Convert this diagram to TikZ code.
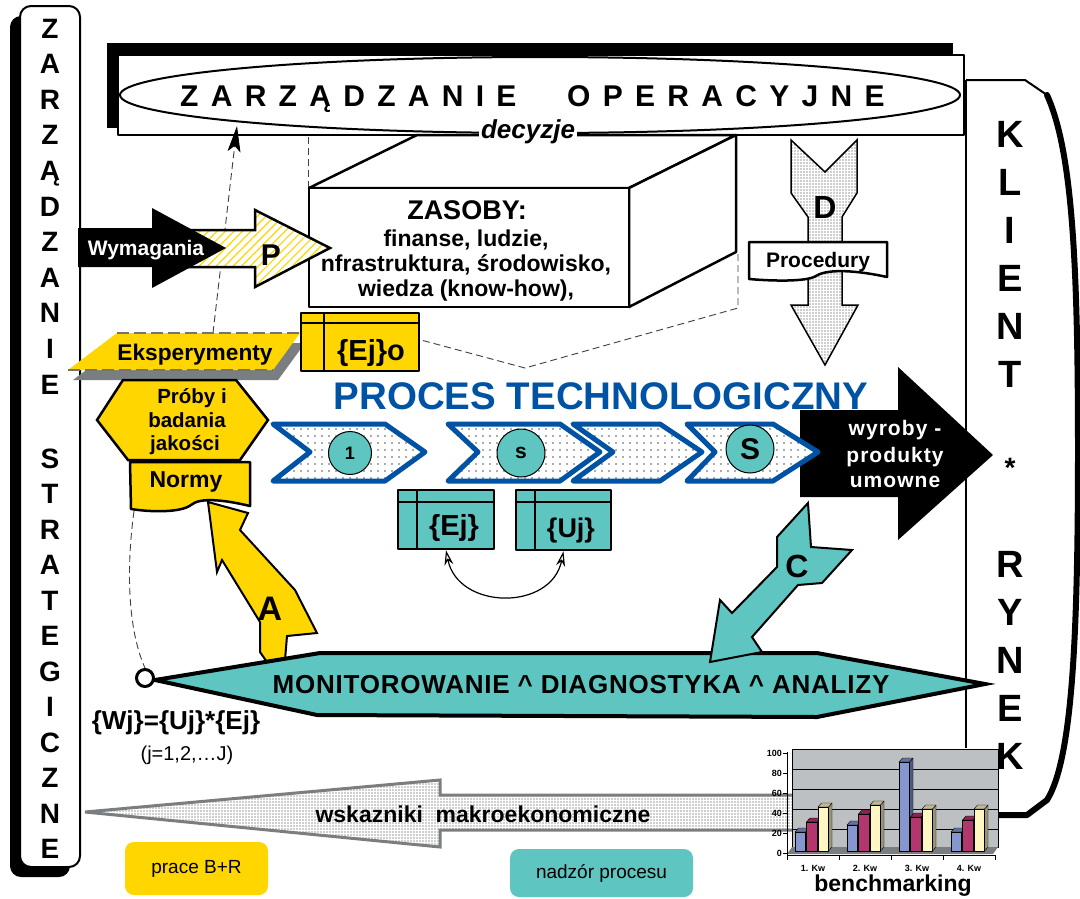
\documentclass[tikz,border=0pt]{standalone}
\usepackage{fontspec}
\setmainfont{Liberation Sans}
\usetikzlibrary{patterns.meta,arrows.meta,calc}
\definecolor{tealc}{RGB}{94,197,192}
\definecolor{yelc}{RGB}{255,214,0}
\definecolor{blueP}{RGB}{0,82,164}
\definecolor{grayw}{RGB}{188,192,194}
\definecolor{barb}{RGB}{134,150,206}
\definecolor{barr}{RGB}{180,54,110}
\definecolor{barc}{RGB}{255,246,196}
\definecolor{shadg}{RGB}{122,126,128}
\newcommand{\fsz}[1]{\fontsize{#1}{#1}\selectfont}
\newcommand{\chartbar}[3]{%
  \filldraw[fill=#3!60!black,draw=black,line width=0.4pt] (#1+10.5,{852-#2}) -- (#1+14,{848-#2}) -- (#1+14,847) -- (#1+10.5,851) -- cycle;
  \filldraw[fill=#3!75!black,draw=black,line width=0.4pt] (#1,{852-#2}) -- (#1+3.5,{848-#2}) -- (#1+14,{848-#2}) -- (#1+10.5,{852-#2}) -- cycle;
  \draw[line width=0.5pt,fill=#3] (#1,851) rectangle (#1+10.5,{852-#2});
}
\begin{document}
\begin{tikzpicture}[x=1pt,y=-1pt,line join=round,
  txt/.style={inner sep=0pt,anchor=base},
  vlet/.style={inner sep=0pt,anchor=base,font=\bfseries\fsz{28}},
  klet/.style={inner sep=0pt,anchor=base,font=\bfseries\fsz{38}},
  outl/.style={draw=black,line width=2.5pt},
  dotsfill/.style={preaction={fill=white},preaction={pattern={Dots[distance=3pt,radius=0.55pt]},pattern color=black!80}},
  chevfill/.style={preaction={fill=white},preaction={pattern={Dots[distance=7pt,radius=0.8pt]},pattern color=black!65}},
  hatchfill/.style={preaction={fill=white},preaction={pattern={Lines[angle=45,distance=6pt,line width=1.2pt]},pattern color=yelc}},
  chevron/.style={draw=blueP,line width=5pt,line join=round,chevfill},
  tealbox/.style={fill=tealc,draw=black,line width=2.5pt,inner sep=0pt},
  yelbox/.style={fill=yelc,draw=black,line width=2.5pt,inner sep=0pt},
  dsh/.style={draw=black!75,line width=0.9pt,dash pattern=on 7pt off 4pt},
  stepcircle/.style={circle,fill=tealc,draw=black,line width=1pt,inner sep=0pt},
  legendbox/.style={rounded corners=9pt,inner sep=0pt},
  ttl/.style={inner sep=0pt,anchor=base west,font=\bfseries\fsz{30}\addfontfeature{LetterSpace=41}},
]
\useasboundingbox (0,0) rectangle (1080,898);
\fill[white] (0,0) rectangle (1080,898);

% ---- left vertical box
\fill[black,rounded corners=11pt] (10,16) rectangle (70,877);
\draw[fill=white,line width=2pt,rounded corners=11pt] (20,6) rectangle (80,867);
\foreach \ch [count=\i from 0] in {Z,A,R,Z,Ą,D,Z,A,N,I,E}
  \node[vlet] (zs\i) at (50,{38+35.6*\i}) {\ch};
\foreach \ch [count=\i from 0] in {S,T,R,A,T,E,G,I,C,Z,N,E}
  \node[vlet] (zt\i) at (50,{468+35.5*\i}) {\ch};

% ---- top box
\fill[black] (107,43) rectangle (953,128);
\draw[fill=white,line width=2pt] (118,55) rectangle (964,135);
\draw[fill=white,line width=2pt] (540,95) ellipse [x radius=420pt,y radius=38pt];
\node[ttl] (title1) at (180,106) {ZARZĄDZANIE};
\node[ttl] (title2) at (567,106) {OPERACYJNE};

% ---- right side
\draw[line width=2.5pt] (966,80) -- (966,748);
\draw[line width=2pt] (966,80) -- (1025,80) -- (1047,95);
\draw[line width=6pt,line cap=round] (1047,95) .. controls (1072,150) and (1078,260) .. (1078,450) .. controls (1078,640) and (1072,760) .. (1047,800) -- (1027,815) -- (998,815);

% ---- cube
\draw[outl,fill=white] (309,188) -- (417,135) -- (736,135) -- (629,188) -- cycle;
\draw[outl,fill=white] (629,188) -- (736,135) -- (736,252) -- (629,307) -- cycle;
\draw[outl,fill=white] (309,188) rectangle (629,307);
\node[txt,font=\bfseries\fsz{27}] (zas0) at (467,219) {ZASOBY:};
\node[txt,font=\bfseries\fsz{23}] (zas1) at (466,246) {finanse, ludzie,};
\node[txt,font=\bfseries\fsz{23}] (zas2) at (466,271) {nfrastruktura, środowisko,};
\node[txt,font=\bfseries\fsz{23}] (zas3) at (466,296) {wiedza (know-how),};
\node[font=\bfseries\itshape\fsz{26},fill=white,inner sep=2pt] (dec) at (528,132) {decyzje};

% ---- dashed helper lines
\coordinate (cubeA) at (308,137);
\coordinate (cubeB) at (308,187);
\draw[dsh] (cubeA) -- (cubeB);
\coordinate (hid1) at (738,254);
\coordinate (hid2) at (738,308);
\coordinate (hid3) at (525,368);
\coordinate (hid4) at (421,340);
\draw[dsh] (hid1) -- (hid2) -- (hid3) -- (hid4);
\coordinate (ekstop) at (213,333);
\coordinate (ellbot) at (237,126);
\draw[dsh,-{Stealth[length=26pt,width=13pt,inset=6pt,black]}] (ekstop) -- (ellbot);

% ---- P arrow and Wymagania
\draw[outl,hatchfill,line join=miter] (175,230) -- (255,230) -- (255,210) -- (330,248) -- (255,287) -- (255,267) -- (175,267) -- cycle;
\fill[black] (78,228) -- (152,228) -- (152,208) -- (226,248) -- (152,288) -- (152,267) -- (78,267) -- cycle;
\node[txt,font=\bfseries\fsz{21},text=white] (wym) at (146,255) {Wymagania};
\node[txt,font=\bfseries\fsz{30}] (pl) at (271,265) {P};

% ---- D arrow and Procedury
\draw[line width=1.5pt,dotsfill,line join=miter] (791,140) -- (825,172) -- (857,140) -- (857,193) -- (842,217) -- (842,305) -- (858,305) -- (825,365) -- (791,305) -- (808,305) -- (808,217) -- (791,193) -- cycle;
\node[txt,font=\bfseries\fsz{32}] (dl) at (825,218) {D};
\draw[outl,fill=white] (749,242) -- (887,242) -- (887,277) .. controls (860,271) and (828,268) .. (816,276) .. controls (806,282) and (772,281) .. (749,279) -- cycle;
\node[txt,font=\bfseries\fsz{21}] (proc) at (818,267) {Procedury};

% ---- Eksperymenty and {Ej}o
\fill[shadg] (73,380) -- (122,343) -- (305,343) -- (278,380) -- cycle;
\fill[yelc] (68,370) -- (117,333) -- (300,333) -- (273,370) -- cycle;
\draw[draw=black!55,line width=1.2pt,dash pattern=on 12pt off 5pt] (117,333) -- (300,333) (68,370) -- (273,370);
\node[txt,font=\bfseries\fsz{22.7}] (eks) at (195,360) {Eksperymenty};
\node[yelbox,minimum width=118pt,minimum height=58pt] (ejo) at (360,342) {};
\draw[line width=2pt] (301,323) -- (419,323) (324,313) -- (324,371);
\node[txt,font=\bfseries\fsz{29}] (ejot) at (371,360) {\{Ej\}o};

% ---- hexagon and Normy
\draw[outl,fill=yelc,line join=miter] (97,420) -- (123,380) -- (236,380) -- (268,420) -- (240,460) -- (128,460) -- cycle;
\node[txt,font=\bfseries\fsz{20.5}] (pr1) at (192,403) {Próby i};
\node[txt,font=\bfseries\fsz{20.5}] (pr2) at (187,427) {badania};
\node[txt,font=\bfseries\fsz{20.5}] (pr3) at (185,450) {jakości};
\draw[outl,fill=yelc] (130,462) -- (250,462) -- (250,506) .. controls (225,500) and (200,497) .. (191,505) .. controls (180,513) and (150,512) .. (131,509) -- cycle;
\node[txt,font=\bfseries\fsz{23}] (normy) at (186,487) {Normy};

% ---- process
\node[txt,font=\bfseries\fsz{38.5},text=blueP] (proces) at (601,409) {PROCES TECHNOLOGICZNY};
\fill[black] (800,410) -- (898,410) -- (898,367) -- (993,455) -- (898,540) -- (898,497) -- (800,497) -- cycle;
\node[txt,text=white,font=\bfseries\fsz{21}\addfontfeature{LetterSpace=5}] (wyr1) at (895,435) {wyroby -};
\node[txt,text=white,font=\bfseries\fsz{21}\addfontfeature{LetterSpace=5}] (wyr2) at (895,462) {produkty};
\node[txt,text=white,font=\bfseries\fsz{21}\addfontfeature{LetterSpace=5}] (wyr3) at (895,487) {umowne};
\draw[chevron] (273,424) -- (385,424) -- (425,452) -- (385,481) -- (273,481) -- (310,452) -- cycle;
\draw[chevron] (448,424) -- (560,424) -- (600,452) -- (560,481) -- (448,481) -- (478,452) -- cycle;
\draw[chevron] (573,424) -- (660,424) -- (702,452) -- (660,481) -- (573,481) -- (613,452) -- cycle;
\draw[chevron] (687,424) -- (773,424) -- (818,452) -- (773,481) -- (687,481) -- (715,452) -- cycle;
\node[stepcircle,minimum size=43pt,font=\bfseries\fsz{18}] (s1) at (350,453) {1};
\node[stepcircle,minimum size=48pt,font=\bfseries\fsz{21}] (s2) at (521,453) {s};
\node[stepcircle,minimum size=48pt,font=\bfseries\fsz{30}] (s3) at (750,449) {S};

% ---- Ej / Uj
\node[tealbox,minimum width=96pt,minimum height=59pt] (ej) at (446,519.5) {};
\draw[line width=2pt] (398,502) -- (494,502) (417,490) -- (417,549);
\node[txt,font=\bfseries\fsz{29}] (ejt) at (454,535) {\{Ej\}};
\node[tealbox,minimum width=95pt,minimum height=60pt] (uj) at (563.5,520) {};
\draw[line width=2pt] (516,502) -- (611,502) (535,490) -- (535,550);
\node[txt,font=\bfseries\fsz{27}] (ujt) at (571,537) {\{Uj\}};
\draw[line width=1.2pt,{Stealth[open,length=15pt,width=9pt]}-{Stealth[open,length=15pt,width=9pt]}] (ej.south) .. controls +(12,60) and +(-12,60) .. (uj.south);

% ---- A arrow, band, C arrow
\draw[line width=2pt,fill=yelc,line join=miter] (208,502) -- (248,513) -- (240,530) -- (295,590) -- (317,633) -- (287,636) -- (285,660) -- (267,662) -- (260,652) -- (260,622) -- (222,560) -- (217,572) -- cycle;
\node[txt,font=\bfseries\fsz{34}] (al) at (270,620) {A};
\draw[line width=4pt,fill=tealc,line join=miter] (155,680) -- (320,653) -- (817,653) -- (985,684) -- (817,717) -- (317,715) -- cycle;
\node[txt,font=\bfseries\fsz{26}\addfontfeature{LetterSpace=3}] (mon) at (581,693) {MONITOROWANIE \textasciicircum{} DIAGNOSTYKA \textasciicircum{} ANALIZY};
\draw[line width=2pt,fill=tealc,line join=miter] (808,503) -- (811,547) -- (852,550) -- (822,583) -- (798,585) -- (752,637) -- (762,652) -- (710,662) -- (720,600) -- (732,613) -- (777,567) -- (777,537) -- cycle;
\node[txt,font=\bfseries\fsz{32}] (cl) at (797,577) {C};
\node[circle,draw=black,fill=white,line width=3pt,minimum size=17pt,inner sep=0pt] (mc) at (145,678) {};
\coordinate (normybl) at (134,511);
\draw[dsh] (normybl) .. controls (126,570) and (128,630) .. (mc.north);
\node[txt,font=\bfseries\fsz{26}] (wj) at (176,729) {\{Wj\}=\{Uj\}*\{Ej\}};
\node[txt,font=\fsz{20}] (jr) at (187,760) {(j=1,2,…J)};

% ---- wskazniki arrow
\draw[draw=shadg,line width=3pt,dotsfill,line join=miter] (85,812) -- (440,780) -- (440,795) -- (800,795) -- (800,830) -- (440,830) -- (440,847) -- cycle;
\node[txt,font=\bfseries\fsz{23}] (wsk) at (483,822) {wskazniki\ \ makroekonomiczne};

% ---- chart
\fill[grayw] (792,749) rectangle (998,847);
\draw[line width=0.6pt] (792,749) rectangle (998,847);
\foreach \vv in {20,40,60,80} \draw[line width=0.8pt] (792,{849-\vv}) -- (998,{849-\vv});
\fill[shadg] (787,854) -- (792,847) -- (998,847) -- (993,854) -- cycle;
\foreach \qq/\va/\vb/\vc in {0/20/30/45,1/27/38/47,2/90/35/43,3/20/32/43} {
  \chartbar{795+52*\qq}{\va}{barb}
  \chartbar{806.5+52*\qq}{\vb}{barr}
  \chartbar{818+52*\qq}{\vc}{barc}
}
\draw[line width=0.8pt] (787,752) -- (787,855) -- (995,855);
\foreach \vv in {0,20,40,60,80,100} {
  \draw[line width=0.8pt] (783,{853-\vv}) -- (787,{853-\vv});
  \node[font=\bfseries\fsz{9},anchor=east,inner sep=1pt] (yl\vv) at (783,{853-\vv}) {\vv};
}
\foreach \xx in {787,839,891,943,995} \draw[line width=0.8pt] (\xx,855) -- (\xx,860);
\foreach \lab [count=\i from 0] in {1. Kw,2. Kw,3. Kw,4. Kw}
  \node[font=\bfseries\fsz{9}] (xl\i) at ({813+52*\i},868) {\lab};
\node[txt,font=\bfseries\fsz{23}] (bench) at (893,891) {benchmarking};

% ---- legend
\node[legendbox,fill=yelc,minimum width=143pt,minimum height=53pt,font=\fsz{19}] (lgB) at (196.5,868.5) {prace B+R};
\node[legendbox,fill=tealc,minimum width=183pt,minimum height=48pt,font=\fsz{19}] (lgN) at (601.5,873) {nadzór procesu};

% ---- KLIENT * RYNEK
\foreach \ch [count=\i from 0] in {K,L,I,E,N,T} \node[klet] (kl\i) at (1010,{147+48*\i}) {\ch};
\foreach \ch [count=\i from 0] in {R,Y,N,E,K} \node[klet] (ry\i) at (1010,{577+48*\i}) {\ch};
\node[txt,font=\bfseries\fsz{28}] (star) at (1010,477) {*};
\end{tikzpicture}
\end{document}
